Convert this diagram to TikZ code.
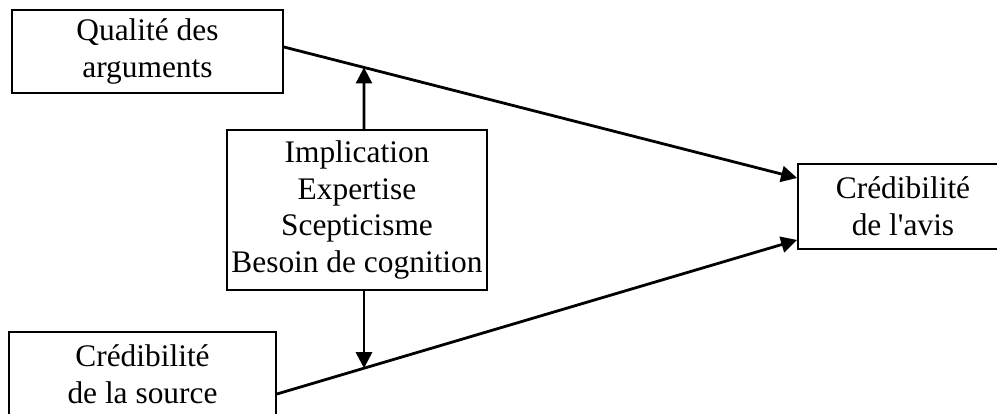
\documentclass[tikz,border=0pt]{standalone}
\usepackage{fontspec}
\setmainfont{Liberation Serif}
\usetikzlibrary{arrows.meta}
\begin{document}
\begin{tikzpicture}[x=1pt,y=-1pt,
  box/.style={draw,line width=1.8pt,rectangle,inner sep=0pt,align=center,
    font=\fontsize{31.4}{36.7}\selectfont},
  conn/.style={line width=2.8pt,-{Triangle[length=16pt,width=16pt]}}]
\useasboundingbox (0,0) rectangle (997,414);
\node[box,minimum width=271pt,minimum height=83pt] (q) at (147.5,51.5) {Qualité des\\arguments};
\node[box,minimum width=267pt,minimum height=84pt] (s) at (142.5,374) {Crédibilité\\de la source};
\node[box,minimum width=260pt,minimum height=160pt] (m) at (357,210) {Implication\\Expertise\\Scepticisme\\Besoin de cognition};
\node[box,minimum width=210pt,minimum height=85pt] (a) at (903,206.5) {Crédibilité\\de l\textquotesingle avis};
\coordinate (q1) at ([yshift=4.5pt]q.east);
\coordinate (a1) at ([yshift=28.5pt]a.west);
\coordinate (s1) at ([yshift=-20pt]s.east);
\coordinate (a2) at ([yshift=-33.5pt]a.west);
\draw[conn] (q1) -- (a1);
\draw[conn] (s1) -- (a2);
\coordinate (mt) at ([xshift=7pt]m.north);
\coordinate (mb) at ([xshift=7pt]m.south);
\coordinate (t1) at (intersection of q1--a1 and mt--{[yshift=100pt]mt});
\coordinate (t2) at (intersection of s1--a2 and mb--{[yshift=-100pt]mb});
\draw[conn] (mt) -- (t1);
\draw[conn] (mb) -- (t2);
\end{tikzpicture}
\end{document}
